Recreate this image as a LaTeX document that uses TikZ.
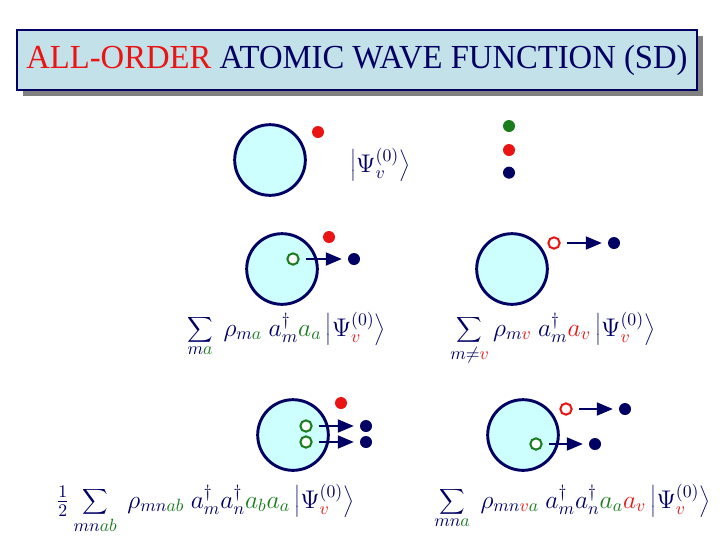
\documentclass[tikz,border=0pt]{standalone}
\usepackage{fontspec}
\setmainfont{Liberation Serif}
\usetikzlibrary{arrows}
\usetikzlibrary{positioning}
\usetikzlibrary{shadows}
\definecolor{navy}{RGB}{0,0,100}
\definecolor{leaf}{RGB}{25,125,30}
\definecolor{scarlet}{RGB}{235,20,20}
\definecolor{ice}{RGB}{205,255,255}
\definecolor{slate}{RGB}{195,225,232}
\tikzstyle{core} = [circle,fill=ice,draw=navy,line width=2.2pt,inner sep=0pt,
minimum size=53pt]
\tikzstyle{particle} = [circle,inner sep=0pt,minimum size=9pt]
\tikzstyle{hole} = [circle,fill=white,line width=1.5pt,inner sep=0pt,
minimum size=8.5pt]
\tikzstyle{formula} = [inner sep=0pt, anchor=base west, text=navy, font=\Large]
\tikzstyle{banner} = [rectangle,fill=slate,draw=navy,line width=0.8pt,
minimum width=510pt, minimum height=45pt,
drop shadow={shadow xshift=4.5pt,shadow yshift=-4.5pt,fill=black!50,opacity=1}]
\tikzset{>={triangle 45}}
\newcommand{\excite}[2][]{ %
  % Move each hole up to its particle.
  \foreach \x/\y in {#2} { %
    \draw [->,draw=navy,line width=1.8pt,shorten <=5pt,shorten >=4.5pt,#1] (\x) -- (\y) ;%
  } ;
}
\newcommand{\eqn}[1]{\scalebox{1.33}{$\displaystyle #1$}}
\newcommand{\ket}{\left|\Psi^{(0)}_{\color{scarlet}v}\right\rangle}
\newcommand{\grn}[1]{{\color{leaf}#1}}
\newcommand{\rd}[1]{{\color{scarlet}#1}}

\begin{document}
\begin{tikzpicture}[x=0.75pt,y=-0.75pt]
  \useasboundingbox (0,0) rectangle (720,540);

  \node[banner] (title) at (357,60) {\resizebox{496pt}{17.5pt}{%
    \textcolor{scarlet}{ALL-ORDER}\ \textcolor{navy}{ATOMIC WAVE FUNCTION (SD)}}};

  % lowest order
  \node[core] (c0) at (270,160) {};
  \node[particle, fill=scarlet] (v0) at (318,132) {};
  \node[formula] (k0) at (350,172) {\eqn{\left|\Psi^{(0)}_{v}\right\rangle}};
  \node[particle, fill=leaf] (g0) at (509,126) {};
  \node[particle, fill=scarlet, below=18pt of g0.center, anchor=center] (r0) {};
  \node[particle, fill=navy, below=17pt of r0.center, anchor=center] (b0) {};

  % single core excitation
  \node[core] (c1) at (282,269) {};
  \node[particle, fill=scarlet] (v1) at (329,237) {};
  \node[hole, draw=leaf] (h1) at (293,259) {};
  \node[particle, fill=navy] (e1) at (354,259) {};
  \excite {h1/e1}
  \node[formula] (f1) at (187,336)
    {\eqn{\sum_{m\grn{a}}\ \rho_{m\grn{a}}\ a^\dagger_m\grn{a_a}\ket}};

  % valence excitation
  \node[core] (c2) at (512,269) {};
  \node[hole, draw=scarlet] (h2) at (554,243) {};
  \node[particle, fill=navy] (e2) at (614,243) {};
  \excite {h2/e2}
  \node[formula] (f2) at (450,336)
    {\eqn{\sum_{m\neq\rd{v}}\rho_{m\rd{v}}\ a^\dagger_m\rd{a_v}\ket}};

  % double core excitation
  \node[core] (c3) at (293,435) {};
  \node[particle, fill=scarlet] (v3) at (341,403) {};
  \node[hole, draw=leaf] (h3) at (306,426) {};
  \node[hole, draw=leaf] (h4) at (306,442) {};
  \node[particle, fill=navy] (e3) at (366,426) {};
  \node[particle, fill=navy] (e4) at (366,442) {};
  \excite {h3/e3,h4/e4}
  \node[formula] (f3) at (56,508)
    {\eqn{{\textstyle\frac{1}{2}}\sum_{mn\grn{ab}}\ \rho_{mn\grn{ab}}\ a^\dagger_m a^\dagger_n\grn{a_b a_a}\ket}};

  % core and valence excitation
  \node[core] (c4) at (523,435) {};
  \node[hole, draw=scarlet] (h5) at (566,409) {};
  \node[hole, draw=leaf] (h6) at (536,444) {};
  \node[particle, fill=navy] (e5) at (625,409) {};
  \node[particle, fill=navy] (e6) at (595,444) {};
  \excite {h5/e5,h6/e6}
  \node[formula] (f4) at (434,508)
    {\eqn{\sum_{mn\grn{a}}\ \rho_{mn\rd{v}\grn{a}}\ a^\dagger_m a^\dagger_n\grn{a_a}\rd{a_v}\ket}};
\end{tikzpicture}
\end{document}
